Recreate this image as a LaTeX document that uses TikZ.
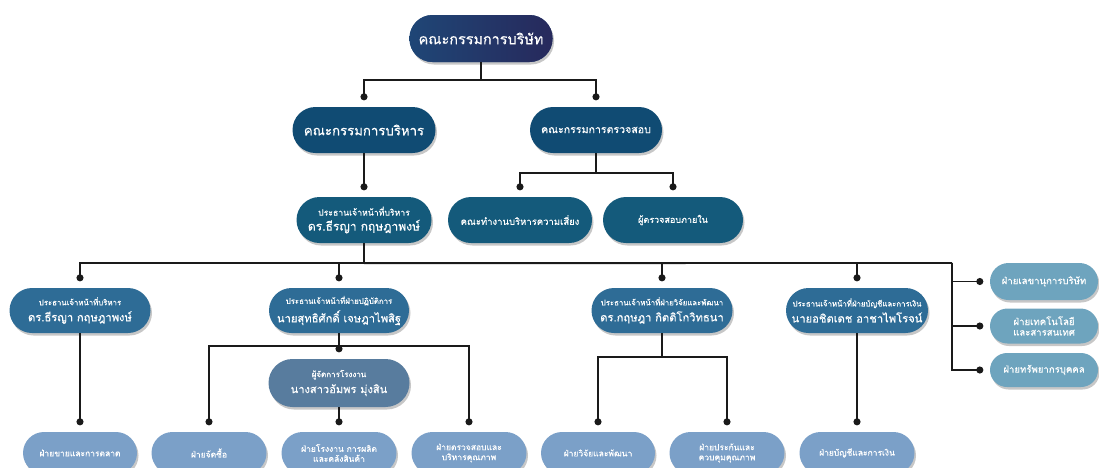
\documentclass[tikz,border=0pt]{standalone}
\usepackage{fontspec}
\setmainfont[Script=Thai, FakeBold=0.35]{Loma}
\usetikzlibrary{arrows.meta,shadows}
\definecolor{cTopA}{HTML}{1F4676}
\definecolor{cTopB}{HTML}{27295C}
\definecolor{cLvTwo}{HTML}{104B73}
\definecolor{cLvThree}{HTML}{145A7B}
\definecolor{cLvFour}{HTML}{2E6C96}
\definecolor{cFm}{HTML}{587C9E}
\definecolor{cBot}{HTML}{7BA0C8}
\definecolor{cRight}{HTML}{6EA4BE}
\definecolor{cLine}{HTML}{1A1A1A}
\newcommand\rkFs[1]{\fontsize{#1}{#1}\selectfont}
\tikzset{
  pill/.style n args={3}{rectangle, rounded corners=#3, minimum width=#1, minimum height=#2,
     text=white, align=center, inner sep=0pt,
     drop shadow={shadow xshift=1.5pt, shadow yshift=-2.5pt, opacity=0.22, fill=black}},
  ln/.style={draw=cLine, line width=1.8pt},
  dl/.style={ln, -{Circle[length=7pt]}, shorten >=6.5pt},
}
\begin{document}
\begin{tikzpicture}[x=1pt,y=-1pt]
\useasboundingbox (0,0) rectangle (1099,467);
\clip (0,0) rectangle (1099,467);
% nodes
\node[pill={143}{47}{23}, fill=cTopA, font=\rkFs{14.4},
  path picture={\shade[left color=cTopA, right color=cTopB] (path picture bounding box.south west) rectangle (path picture bounding box.north east);}] (top) at (481,38.5) {คณะกรรมการบริษัท};
\node[pill={143}{46}{23}, fill=cLvTwo, font=\rkFs{13.2}] (exec) at (364,130) {คณะกรรมการบริหาร};
\node[pill={132}{46}{23}, fill=cLvTwo, font=\rkFs{10.6}] (audit) at (596,130) {คณะกรรมการตรวจสอบ};
\node[pill={135}{46}{23}, fill=cLvThree] (ceo) at (364,220) {\rkFs{8.7}ประธานเจ้าหน้าที่บริหาร\\[3pt]\rkFs{12.1}ดร.ธีรญา กฤษฎาพงษ์};
\node[pill={144}{46}{23}, fill=cLvThree, font=\rkFs{9.5}] (risk) at (520,220) {คณะทำงานบริหารความเสี่ยง};
\node[pill={140}{46}{23}, fill=cLvThree, font=\rkFs{9}] (ia) at (673,220) {ผู้ตรวจสอบภายใน};
\node[pill={141}{45}{22.5}, fill=cLvFour] (ra) at (80,310.5) {\rkFs{7.8}ประธานเจ้าหน้าที่บริหาร\\[4pt]\rkFs{11.2}ดร.ธีรญา กฤษฎาพงษ์};
\node[pill={140}{45}{22.5}, fill=cLvFour] (rb) at (339,310.5) {\rkFs{7.8}ประธานเจ้าหน้าที่ฝ่ายปฏิบัติการ\\[4pt]\rkFs{11.2}นายสุทธิศักดิ์ เจษฎาไพสิฐ};
\node[pill={141}{45}{22.5}, fill=cLvFour] (rc) at (662,310.5) {\rkFs{7.8}ประธานเจ้าหน้าที่ฝ่ายวิจัยและพัฒนา\\[4pt]\rkFs{11.2}ดร.กฤษฎา กิตติโกวิทธนา};
\node[pill={142}{45}{22.5}, fill=cLvFour] (rd) at (857,310.5) {\rkFs{7.8}ประธานเจ้าหน้าที่ฝ่ายบัญชีและการเงิน\\[4pt]\rkFs{11.2}นายอชิตเดช อาชาไพโรจน์};
\node[pill={141}{48}{24}, fill=cFm] (fm) at (339,383) {\rkFs{8}ผู้จัดการโรงงาน\\[4pt]\rkFs{11.1}นางสาวอัมพร มุ่งสิน};
\node[pill={114}{42}{21}, fill=cBot, font=\rkFs{8.5}] (ba) at (80,453) {ฝ่ายขายและการตลาด};
\node[pill={115}{42}{21}, fill=cBot, font=\rkFs{8.5}] (bb) at (209,453) {ฝ่ายจัดซื้อ};
\node[pill={115}{42}{21}, fill=cBot, font=\rkFs{8.5}] (bc) at (339,453) {ฝ่ายโรงงาน การผลิต\\[1.5pt]และคลังสินค้า};
\node[pill={115}{42}{21}, fill=cBot, font=\rkFs{8.5}] (bd) at (469,453) {ฝ่ายตรวจสอบและ\\[1.5pt]บริหารคุณภาพ};
\node[pill={114}{42}{21}, fill=cBot, font=\rkFs{8.5}] (be) at (598,453) {ฝ่ายวิจัยและพัฒนา};
\node[pill={115}{42}{21}, fill=cBot, font=\rkFs{8.5}] (bf) at (727,453) {ฝ่ายประกันและ\\[1.5pt]ควบคุมคุณภาพ};
\node[pill={115}{42}{21}, fill=cBot, font=\rkFs{8.5}] (bg) at (857,453) {ฝ่ายบัญชีและการเงิน};
\node[pill={108}{37}{18.5}, fill=cRight, font=\rkFs{9.6}] (xa) at (1044,281.5) {ฝ่ายเลขานุการบริษัท};
\node[pill={108}{35}{17.5}, fill=cRight, font=\rkFs{9.6}] (xb) at (1044,326) {ฝ่ายเทคโนโลยี\\[1pt]และสารสนเทศ};
\node[pill={108}{34}{17}, fill=cRight, font=\rkFs{9.6}] (xc) at (1044,370) {ฝ่ายทรัพยากรบุคคล};
% connectors
\draw[ln] (top.south) -- ++(0,18) coordinate (j1);
\draw[dl] (j1) -| (exec.north);
\draw[dl] (j1) -| (audit.north);
\draw[dl] (exec.south) -- (ceo.north);
\draw[ln] (audit.south) -- ++(0,20) coordinate (j2);
\draw[dl] (j2) -| (risk.north);
\draw[dl] (j2) -| (ia.north);
\draw[ln] (ceo.south) -- ++(0,20) coordinate (j3);
\draw[dl] (j3) -| (ra.north);
\draw[dl] (j3) -| (rb.north);
\draw[dl] (j3) -| (rc.north);
\draw[dl] (j3) -| (rd.north);
\draw[ln] (j3) -- (952,263) coordinate (jr);
\draw[dl] (jr) |- (xa.west);
\draw[dl] (jr) |- (xb.west);
\draw[dl] (jr) |- (xc.west);
\draw[dl] (ra.south) -- (ba.north);
\draw[ln] (rb.south) -- ++(0,13) coordinate (j4);
\draw[dl] (j4) -| (bb.north);
\draw[dl] (j4) -| (bd.north);
\draw[dl] (j4) -- (fm.north);
\draw[dl] (fm.south) -- (bc.north);
\draw[ln] (rc.south) -- ++(0,24) coordinate (j5);
\draw[dl] (j5) -| (be.north);
\draw[dl] (j5) -| (bf.north);
\draw[dl] (rd.south) -- (bg.north);
\end{tikzpicture}
\end{document}
